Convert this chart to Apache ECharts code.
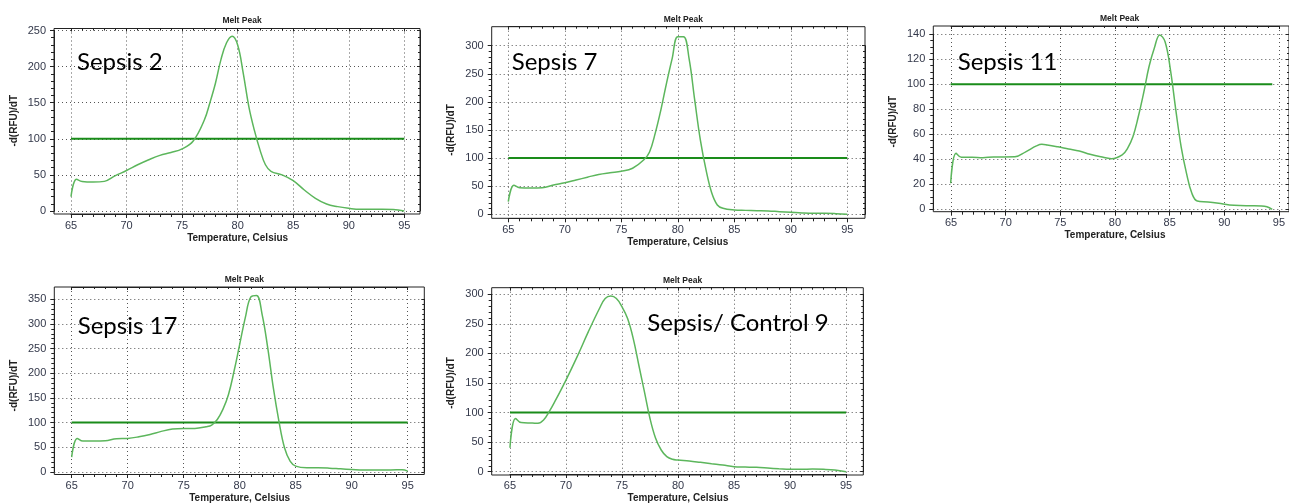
<!DOCTYPE html>
<html>
<head>
<meta charset="utf-8">
<script src="https://cdn.jsdelivr.net/npm/echarts@6/dist/echarts.min.js"></script>
<style>
  html, body { margin: 0; padding: 0; background: #fff; }
  #chart { width: 1289px; height: 504px; }
</style>
</head>
<body>
<div id="chart"></div>
<script>
// ---- data -------------------------------------------------------------
const sampleNames = ['Sepsis 2', 'Sepsis 7', 'Sepsis 11', 'Sepsis 17', 'Sepsis/ Control 9'];
const tempTicks = [65, 70, 75, 80, 85, 90, 95];
const yTickSteps = [50, 50, 20, 50, 50];
const yTickTops = [250, 300, 140, 350, 300];
const thresholdTemps = [65, 95];
const thresholdValue = 100;

const sepsis2Temp = [65, 65.5, 66, 67, 68, 69, 70, 71, 72, 73, 74, 75, 76, 77, 77.5, 78, 78.5, 79, 79.5, 80, 80.5, 81, 81.5, 82, 82.5, 83, 84, 85, 86, 87, 88, 89, 90, 91, 92, 93, 94, 95];
const sepsis2Val  = [20, 44, 40.7, 40, 41, 49, 56, 64, 71, 77, 81, 86, 97, 126, 150, 177, 210, 233, 242, 230, 191, 145, 112, 85, 64, 55, 50, 42, 29, 17.6, 9.7, 6, 3.7, 2.3, 2.3, 2.3, 2, 0];

const sepsis7Temp = [65, 65.5, 66, 67, 68, 69, 70, 71, 72, 73, 74, 75, 76, 77, 77.5, 78, 78.5, 79, 79.5, 80, 80.5, 81, 81.5, 82, 82.5, 83, 83.5, 84, 85, 86, 87, 88, 89, 90, 91, 92, 93, 94, 95];
const sepsis7Val  = [22.5, 51.6, 47.4, 47, 47.4, 52, 56, 61, 66, 71, 74, 76.5, 82, 97, 111, 144, 185.5, 233, 277, 316, 316, 277, 203, 132, 79, 38.5, 16.6, 10.7, 7.7, 7, 6.5, 6, 4.7, 3.6, 2.4, 1.8, 1.8, 1.2, 0];

const sepsis11Temp = [65, 65.5, 66, 67, 68, 69, 70, 71, 72, 73, 73.5, 74, 75, 76, 77, 78, 79, 80, 81, 81.5, 82, 82.5, 83, 83.5, 84, 84.5, 85, 85.5, 86, 86.5, 87, 87.5, 88, 89, 90, 91, 92, 93, 94, 94.5, 95];
const sepsis11Val  = [20.8, 44.8, 41.6, 41.6, 41.3, 41.9, 41.9, 42, 46, 50.7, 52, 51.5, 50, 48.3, 46.7, 44, 42, 40.5, 43.5, 48.8, 58, 74, 93, 114, 129, 139.5, 134, 111.5, 79.5, 50, 28.8, 12.8, 6.7, 5.9, 4.8, 3.5, 3, 2.9, 2.7, 2, 0];

const sepsis17Temp = [65, 65.5, 66, 67, 68, 69, 70, 71, 72, 73, 74, 75, 76, 77, 77.5, 78, 78.5, 79, 79.5, 80, 80.5, 81, 81.5, 82, 82.5, 83, 83.5, 84, 84.5, 85, 86, 87, 88, 89, 90, 91, 92, 93, 94, 94.5, 95];
const sepsis17Val  = [29.8, 67.7, 62.3, 62.3, 63, 67, 67.7, 71, 75.8, 82, 86.7, 88, 88, 91.4, 94.8, 106, 126.6, 157, 204.5, 258.6, 312.8, 354.8, 358, 319.6, 251.9, 170.6, 102.9, 48.7, 21.7, 11.5, 8.1, 8.1, 7.4, 6, 4.7, 3.4, 3.4, 3.4, 4, 4, 1.4];

const control9Temp = [65, 65.5, 66, 67, 67.5, 68, 68.5, 69, 70, 71, 72, 73, 73.5, 74, 74.5, 75, 75.5, 76, 76.5, 77, 77.5, 78, 78.5, 79, 79.5, 80, 81, 82, 83, 84, 85, 86, 87, 88, 89, 90, 91, 92, 93, 94, 95];
const control9Val  = [40.6, 90, 83, 82.3, 81.8, 87.4, 101.5, 118.4, 155, 194.6, 236.9, 276.4, 293, 297, 293, 279, 259, 225.6, 180.5, 135.4, 90, 56.4, 36.7, 25.4, 20.9, 19.7, 18, 15.8, 13.5, 11.3, 8.5, 7.9, 7.3, 6.2, 5, 4, 4, 4.5, 4, 2.8, 0];

const curveTemps = [sepsis2Temp, sepsis7Temp, sepsis11Temp, sepsis17Temp, control9Temp];
const curveValues = [sepsis2Val, sepsis7Val, sepsis11Val, sepsis17Val, control9Val];

// ---- layout (plot frames in px, frame extents in data units, sample label anchors) ----
const panels = [
  { left: 54,    top: 28.5,  width: 366,   height: 185.5, x: [63.47, 96.41], y: [-4.2, 252.8], lx: 77,    ly: 62 },
  { left: 491.7, top: 26.7,  width: 373.3, height: 191.6, x: [63.53, 96.57], y: [-7.1, 333.8], lx: 511.7, ly: 62 },
  { left: 933.3, top: 26,    width: 362.7, height: 185.7, x: [63.38, 96.56], y: [-1.9, 146.6], lx: 957.7, ly: 62 },
  { left: 54.3,  top: 287,   width: 370,   height: 187.5, x: [63.45, 96.48], y: [-5.5, 375],   lx: 77.7,  ly: 326 },
  { left: 491.7, top: 287.7, width: 371.6, height: 187.3, x: [63.37, 96.54], y: [-5.6, 311.2], lx: 647.3, ly: 323 }
];

const AXIS_COLOR = '#222';
const LABEL_FONT = 'Liberation Sans, Arial, sans-serif';
const labelStyle = { color: '#33384a', fontSize: 11, fontFamily: LABEL_FONT };
const nameStyle = { fontWeight: 'bold', fontSize: 10, color: '#222', fontFamily: LABEL_FONT };
const dotted = { show: true, lineStyle: { color: '#555', type: [1, 3], width: 1 } };
const line = { show: true, onZero: false, lineStyle: { color: AXIS_COLOR, width: 1 } };
const tickOut = { show: true, inside: false, length: 4, lineStyle: { color: AXIS_COLOR } };
const tickIn = { show: true, inside: true, length: 3, lineStyle: { color: AXIS_COLOR } };
const minorOut = n => ({ show: true, splitNumber: n, length: 3, lineStyle: { color: AXIS_COLOR } });
const minorIn = n => ({ show: true, splitNumber: n, length: 2, lineStyle: { color: AXIS_COLOR } });

const grids = [], xAxes = [], yAxes = [], series = [], titles = [], graphics = [];

panels.forEach((p, i) => {
  // pixel position of a data value inside this frame
  const px = v => p.left + (v - p.x[0]) / (p.x[1] - p.x[0]) * p.width;
  const py = v => p.top + (p.y[1] - v) / (p.y[1] - p.y[0]) * p.height;
  const tLo = tempTicks[0], tHi = tempTicks[tempTicks.length - 1];
  const step = yTickSteps[i], yTop = yTickTops[i];

  // 1) frame grid: holds the data series, draws the box
  const gFrame = grids.length;
  grids.push({ left: p.left, top: p.top, width: p.width, height: p.height,
               show: true, borderColor: AXIS_COLOR, borderWidth: 1, backgroundColor: 'transparent' });
  const xFrame = xAxes.length;
  xAxes.push({ type: 'value', gridIndex: gFrame, min: p.x[0], max: p.x[1], show: false });
  const yFrame = yAxes.length;
  yAxes.push({ type: 'value', gridIndex: gFrame, min: p.y[0], max: p.y[1], show: false });

  // 2) temperature scale grid: spans 65..95 horizontally, full frame height
  const gX = grids.length;
  grids.push({ left: px(tLo), top: p.top, width: px(tHi) - px(tLo), height: p.height });
  xAxes.push({
    type: 'value', gridIndex: gX, position: 'bottom', min: tLo, max: tHi, interval: 5,
    axisLine: line, axisTick: tickOut, minorTick: minorOut(5),
    axisLabel: Object.assign({ margin: 6 }, labelStyle),
    splitLine: dotted,
    name: 'Temperature, Celsius', nameLocation: 'middle', nameGap: 19, nameTextStyle: nameStyle
  });
  xAxes.push({
    type: 'value', gridIndex: gX, position: 'top', min: tLo, max: tHi, interval: 5,
    axisLine: line, axisTick: tickIn, minorTick: minorIn(5),
    axisLabel: { show: false }, splitLine: { show: false }
  });
  yAxes.push({ type: 'value', gridIndex: gX, min: 0, max: 1, show: false });

  // 3) signal scale grid: spans 0..top tick vertically, full frame width
  const gY = grids.length;
  grids.push({ left: p.left, top: py(yTop), width: p.width, height: py(0) - py(yTop) });
  xAxes.push({ type: 'value', gridIndex: gY, min: 0, max: 1, show: false });
  yAxes.push({
    type: 'value', gridIndex: gY, position: 'left', min: 0, max: yTop, interval: step,
    axisLine: line, axisTick: tickOut, minorTick: minorOut(step === 20 ? 4 : 5),
    axisLabel: Object.assign({ margin: 8 }, labelStyle),
    splitLine: dotted,
    name: '-d(RFU)/dT', nameLocation: 'middle', nameGap: 35, nameRotate: 90, nameTextStyle: nameStyle
  });
  yAxes.push({
    type: 'value', gridIndex: gY, position: 'right', min: 0, max: yTop, interval: step,
    axisLine: line, axisTick: tickIn, minorTick: minorIn(step === 20 ? 4 : 5),
    axisLabel: { show: false }, splitLine: { show: false }
  });

  // threshold line
  series.push({
    type: 'line', xAxisIndex: xFrame, yAxisIndex: yFrame, z: 3,
    data: thresholdTemps.map(t => [t, thresholdValue]),
    symbol: 'none', silent: true,
    lineStyle: { color: '#1a8c1a', width: 2 }
  });
  // melt peak curve
  series.push({
    type: 'line', xAxisIndex: xFrame, yAxisIndex: yFrame, z: 4,
    data: curveTemps[i].map((t, k) => [t, curveValues[i][k]]),
    symbol: 'none', silent: true, smooth: 0.4,
    lineStyle: { color: '#5cb65c', width: 1.5 }
  });

  titles.push({
    text: 'Melt Peak', left: p.left + p.width / 2, textAlign: 'center', top: p.top - 17,
    textStyle: { fontSize: 8.5, fontWeight: 'bold', color: '#222', fontFamily: LABEL_FONT }
  });

  graphics.push({
    type: 'text', x: p.lx, y: p.ly, z: 10,
    style: { text: sampleNames[i], font: '24px Lato', fill: '#000', verticalAlign: 'middle', align: 'left' }
  });
});

const chart = echarts.init(document.getElementById('chart'), null, { renderer: 'canvas' });
chart.setOption({
  animation: false,
  backgroundColor: '#fff',
  title: titles,
  grid: grids,
  xAxis: xAxes,
  yAxis: yAxes,
  series: series,
  graphic: graphics
});
</script>
</body>
</html>
